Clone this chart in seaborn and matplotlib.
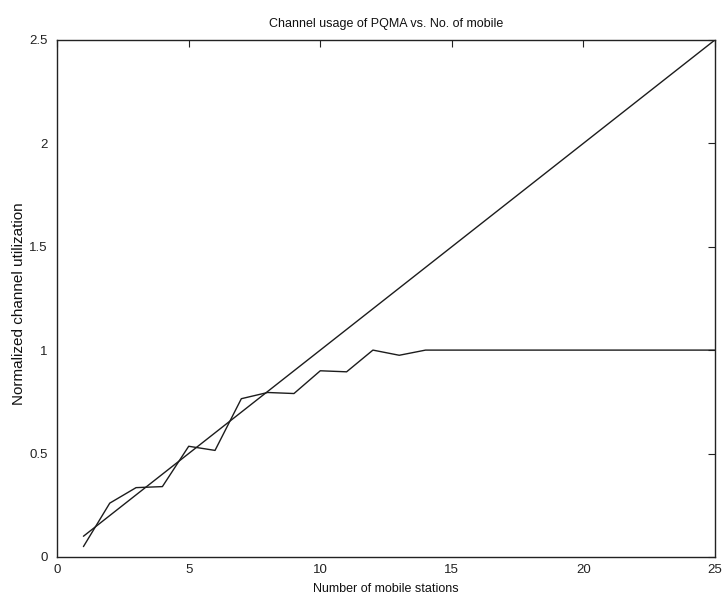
import numpy as np
import pandas as pd
import matplotlib
matplotlib.use("Agg")
import matplotlib.pyplot as plt
import seaborn as sns

# data
stations = list(range(1, 26))
pqma_usage = [0.05, 0.26, 0.335, 0.34, 0.535, 0.515, 0.765, 0.795, 0.79, 0.90, 0.895, 1.0, 0.975,
              1.0, 1.0, 1.0, 1.0, 1.0, 1.0, 1.0, 1.0, 1.0, 1.0, 1.0, 1.0]
offered_load = [0.1, 0.2, 0.3, 0.4, 0.5, 0.6, 0.7, 0.8, 0.9, 1.0, 1.1, 1.2, 1.3,
                1.4, 1.5, 1.6, 1.7, 1.8, 1.9, 2.0, 2.1, 2.2, 2.3, 2.4, 2.5]

x_ticks = [0, 5, 10, 15, 20, 25]
y_ticks = [0, 0.5, 1, 1.5, 2, 2.5]
y_tick_labels = ["0", "0.5", "1", "1.5", "2", "2.5"]

sns.set_theme(style="white")
plt.rcParams['font.family'] = ['Liberation Sans', 'DejaVu Sans']

df = pd.DataFrame({"stations": stations, "usage": pqma_usage, "load": offered_load})

fig = plt.figure(figsize=(7.23, 5.95), dpi=100)
ax = fig.add_axes([0.079, 0.064, 0.910, 0.869])

sns.lineplot(data=df, x="stations", y="load", color="#1c1c1c", linewidth=1.0, ax=ax)
sns.lineplot(data=df, x="stations", y="usage", color="#1c1c1c", linewidth=1.0, ax=ax)

ax.set_xlim(0, 25)
ax.set_ylim(0, 2.5)
ax.set_xticks(x_ticks)
ax.set_yticks(y_ticks)
ax.set_yticklabels(y_tick_labels)
ax.tick_params(direction="in", length=5, width=0.8, colors="#222222", labelsize=9.5,
               top=True, right=True)
ax.tick_params(axis="x", pad=5)
ax.tick_params(axis="y", pad=7)
for s in ax.spines.values():
    s.set_visible(True)
    s.set_color("#222222")
    s.set_linewidth(1.0)

ax.set_title("Channel usage of PQMA vs. No. of mobile", fontsize=9, color="#111111", pad=9)
ax.set_xlabel("Number of mobile stations", fontsize=9, color="#111111", labelpad=5)
ax.set_ylabel("Normalized channel utilization", fontsize=11, color="#111111")
ax.yaxis.set_label_coords(-0.047, 0.49)

fig.savefig("out.png", dpi=100, facecolor="white")
